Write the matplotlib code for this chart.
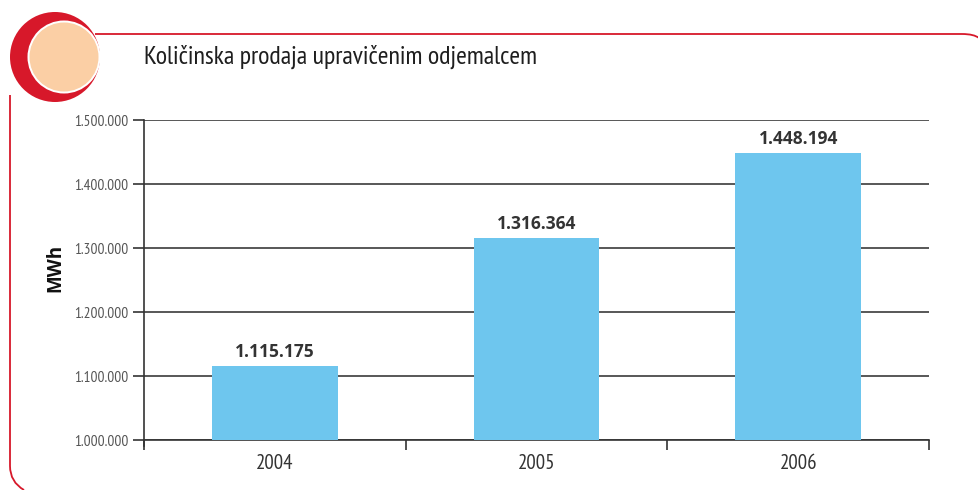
import matplotlib
matplotlib.use("Agg")
import matplotlib.pyplot as plt
from matplotlib.path import Path
from matplotlib.patches import PathPatch, Circle
from matplotlib.ticker import FuncFormatter, FixedLocator

years = ["2004", "2005", "2006"]
values = [1115175, 1316364, 1448194]
yticks = [1000000, 1100000, 1200000, 1300000, 1400000, 1500000]
title = "Količinska prodaja upravičenim odjemalcem"
ylabel = "MWh"

W, H = 979, 490
fig = plt.figure(figsize=(W / 100, H / 100), dpi=100)

narrow = ["PT Sans Narrow", "DejaVu Sans"]
BAR = "#6EC6EE"
RED = "#D7182A"
DARK = "#333333"

# decoration overlay in pixel coordinates
deco = fig.add_axes([0, 0, 1, 1], zorder=0)
deco.set_xlim(0, W)
deco.set_ylim(H, 0)
deco.axis("off")
top = Path([(95, 34), (962, 34), (974, 34), (979, 38)],
           [Path.MOVETO, Path.LINETO, Path.CURVE3, Path.CURVE3])
deco.add_patch(PathPatch(top, fill=False, edgecolor=RED, lw=1.3))
left = Path([(10, 95), (10, 466), (10, 482), (24, 490)],
            [Path.MOVETO, Path.LINETO, Path.CURVE3, Path.CURVE3])
deco.add_patch(PathPatch(left, fill=False, edgecolor=RED, lw=1.3))
deco.add_patch(Circle((55, 57), 45, color=RED, lw=0))
deco.add_patch(Circle((64, 57), 36.5, color="white", lw=0))
deco.add_patch(Circle((64, 57), 34.5, color="#FBCFA5", lw=0))

fig.text(144 / W, 1 - 57 / H, title, fontsize=18.7, family=narrow,
         color="#1e1e1e", va="center", ha="left")

ax = fig.add_axes([144 / W, 1 - 440 / H, (929 - 144) / W, (440 - 120) / H], zorder=1)
ax.patch.set_alpha(0)
x = list(range(len(years)))
ax.bar(x, values, width=0.48, color=BAR, zorder=3)
ax.set_xlim(-0.5, len(years) - 0.5)
ax.set_ylim(yticks[0], yticks[-1])
ax.set_yticks(yticks)
ax.yaxis.set_major_formatter(FuncFormatter(lambda v, p: f"{int(v):,}".replace(",", ".")))
for t in yticks:
    ax.axhline(t, color="#2a2a2a", lw=1.1, zorder=1)
for spine in ["top", "right"]:
    ax.spines[spine].set_visible(False)
ax.spines["left"].set_color(DARK)
ax.spines["bottom"].set_color(DARK)
ax.spines["left"].set_linewidth(1.2)
ax.spines["bottom"].set_linewidth(1.2)
ax.spines["left"].set_bounds(yticks[0] - 10000, yticks[-1])

ax.set_xticks(x)
ax.set_xticklabels(years)
ax.tick_params(axis="x", which="major", length=0, pad=10, labelsize=15, labelcolor=DARK)
ax.xaxis.set_minor_locator(FixedLocator([-0.5, 0.5, 1.5, 2.5]))
ax.tick_params(axis="x", which="minor", length=7, width=1.2, color=DARK, direction="out")
ax.tick_params(axis="y", length=8, width=1.2, color=DARK, direction="out",
               labelsize=11, labelcolor="#555555", pad=3)
for lab in ax.get_xticklabels() + ax.get_yticklabels():
    lab.set_family(narrow)

for xi, v in zip(x, values):
    ax.annotate(f"{v:,}".replace(",", "."), (xi, v), xytext=(0, 3.5),
                textcoords="offset points", ha="center", va="bottom",
                fontsize=12.5, fontweight="bold", color=DARK, family="Open Sans")

fig.text(55 / W, 1 - 268 / H, ylabel, rotation=90, fontsize=13.5, fontweight="bold",
         color="#111111", family="Open Sans", ha="center", va="center")

fig.savefig("out.png", dpi=100)
